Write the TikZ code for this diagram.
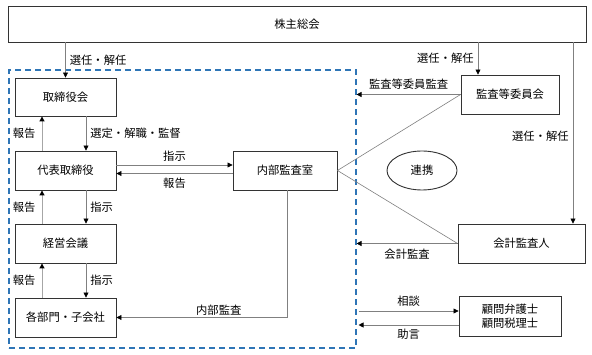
\documentclass[tikz,border=0pt]{standalone}
\usepackage{fontspec}
\setmainfont{Noto Sans CJK JP}
\usetikzlibrary{arrows.meta,calc,shapes.geometric}
\definecolor{lgray}{HTML}{808080}
\definecolor{vlgray}{HTML}{A6A6A6}
\definecolor{dblue}{HTML}{2E75B6}
\begin{document}
\begin{tikzpicture}[x=1pt,y=-1pt,
  box/.style={draw=black!80, line width=0.9pt, inner sep=0pt, font=\fontsize{11.3}{14}\selectfont, align=center},
  conn/.style={draw=lgray, line width=0.7pt, -{Triangle[length=5pt,width=5pt,color=black]}},
  upconn/.style={draw=vlgray, line width=1pt, -{Triangle[length=5pt,width=5pt,color=black]}},
  plain/.style={draw=lgray, line width=0.6pt},
  lbl/.style={font=\fontsize{11.3}{14}\selectfont, inner sep=2pt},
  grpbox/.style={draw=dblue, line width=1.1pt, dash pattern=on 6pt off 4pt, inner sep=0pt}]
\useasboundingbox (0,0) rectangle (592,355);
\fill[white] (0,0) rectangle (592,355);

\node[box, minimum width=578, minimum height=36] (sh) at (297,24) {株主総会};
\node[grpbox, minimum width=347, minimum height=278] (grp) at (182.5,209) {};
\node[box, minimum width=101, minimum height=38] (tb) at (65.5,97) {取締役会};
\node[box, minimum width=101, minimum height=39] (rep) at (65.5,170.5) {代表取締役};
\node[box, minimum width=101, minimum height=39] (mtg) at (65.5,243.5) {経営会議};
\node[box, minimum width=101, minimum height=39] (dept) at (65.5,317.5) {各部門・子会社};
\node[box, minimum width=104, minimum height=39] (ia) at (285,170.5) {内部監査室};
\node[box, minimum width=98, minimum height=39] (ac) at (510,94.5) {監査等委員会};
\node[box, minimum width=127, minimum height=39] (ea) at (521.5,243.5) {会計監査人};
\node[box, minimum width=102, minimum height=40] (adv) at (510,316) {顧問弁護士\\顧問税理士};
\node[box, ellipse, minimum width=70, minimum height=39] (ren) at (422,170.5) {連携};

% shareholders -> board
\draw[conn] (tb.north |- sh.south) -- node[lbl, right, xshift=2] {選任・解任} (tb.north);
% board <-> representative
\draw[conn] ($(tb.south)+(20.5,0)$) -- node[lbl, right, xshift=2] {選定・解職・監督} ($(rep.north)+(20.5,0)$);
\draw[upconn] ($(rep.north)+(-23.5,0)$) -- node[lbl, left, xshift=-4] {報告} ($(tb.south)+(-23.5,0)$);
% representative <-> meeting
\draw[conn] ($(rep.south)+(20.5,0)$) -- node[lbl, right, xshift=2] {指示} ($(mtg.north)+(20.5,0)$);
\draw[upconn] ($(mtg.north)+(-23.5,0)$) -- node[lbl, left, xshift=-4] {報告} ($(rep.south)+(-23.5,0)$);
% meeting <-> departments
\draw[conn] ($(mtg.south)+(20.5,0)$) -- node[lbl, right, xshift=2] {指示} ($(dept.north)+(20.5,0)$);
\draw[upconn] ($(dept.north)+(-23.5,0)$) -- node[lbl, left, xshift=-4] {報告} ($(mtg.south)+(-23.5,0)$);
% representative <-> internal audit
\draw[conn] ($(rep.east)+(0,-5.5)$) -- node[lbl, above, yshift=1] {指示} ($(ia.west)+(0,-5.5)$);
\draw[conn] ($(ia.west)+(0,3)$) -- node[lbl, below, yshift=-2] {報告} ($(rep.east)+(0,3)$);
% internal audit -> departments
\draw[conn] ($(ia.south)+(2,0)$) |- node[lbl, above, pos=0.70] {内部監査} (dept.east);

% shareholders -> audit committee
\coordinate (acin) at ($(ac.north)+(-32,0)$);
\draw[conn] (acin |- sh.south) -- node[lbl, left, xshift=-2] {選任・解任} (acin);
% audit committee -> group
\draw[conn] (ac.west) -- node[lbl, above, yshift=3] {監査等委員監査} (grp.east |- ac.west);
% cooperation lines
\draw[plain] (ac.west) -- (ia.east) -- (ea.west);
\draw[plain] ($(ac.south)+(-30,0)$) -- ($(ac.south)+(-30,0)$ |- ea.north);
% shareholders -> external auditor
\coordinate (eain) at ($(ea.north)+(51.5,0)$);
\draw[conn] (eain |- sh.south) -- node[lbl, left, pos=0.52, xshift=-2] {選任・解任} (eain);
% external auditor -> group
\draw[conn] (ea.west) -- node[lbl, below, yshift=-3] {会計監査} (grp.east |- ea.west);
% advisors
\draw[conn] ($(grp.east |- adv.west)+(2,-5)$) -- node[lbl, above, yshift=2] {相談} ($(adv.west)+(0,-5)$);
\draw[conn] ($(adv.west)+(0,9)$) -- node[lbl, below, yshift=-2] {助言} ($(grp.east |- adv.west)+(2,9)$);
\end{tikzpicture}
\end{document}
